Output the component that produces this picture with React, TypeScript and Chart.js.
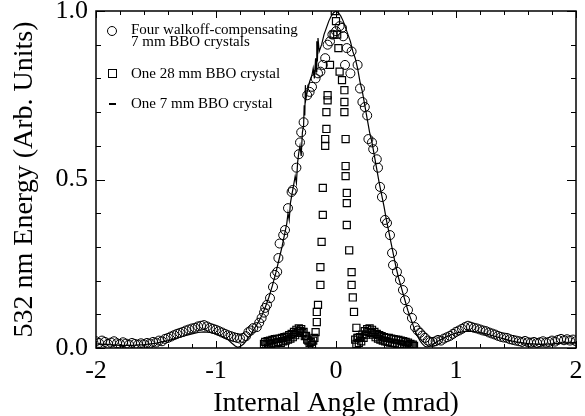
import React, { useEffect, useRef } from "react";
import { Chart, registerables } from "chart.js";

Chart.register(...registerables);

const FONT = "'Liberation Serif', 'Times New Roman', serif";

// Axis tick labels
const xTickValues = [-2, -1, 0, 1, 2];
const yTickValues = [0.0, 0.5, 1.0];

// Series 1: Four walkoff-compensating 7 mm BBO crystals (circles)
const fourX = [
  -2.0, -1.975, -1.95, -1.925, -1.9, -1.875, -1.85, -1.825, -1.8, -1.775, -1.75, -1.725, -1.7, -1.675, -1.65, -1.625,
  -1.6, -1.575, -1.55, -1.525, -1.5, -1.475, -1.45, -1.425, -1.4, -1.375, -1.35, -1.325, -1.3, -1.275, -1.25, -1.225,
  -1.2, -1.175, -1.15, -1.125, -1.1, -1.075, -1.05, -1.025, -1.0, -0.975, -0.95, -0.925, -0.9, -0.875, -0.85, -0.825,
  -0.8, -0.775, -0.75, -0.73, -0.71, -0.69, -0.66, -0.64, -0.62, -0.6, -0.59, -0.575, -0.55, -0.525, -0.51, -0.49,
  -0.48, -0.47, -0.44, -0.425, -0.4, -0.37, -0.36, -0.33, -0.31, -0.3, -0.29, -0.27, -0.24, -0.22, -0.2, -0.17,
  -0.15, -0.13, -0.11, -0.09, -0.07, -0.05, -0.03, 0.0, 0.03, 0.05, 0.06, 0.075, 0.09, 0.12, 0.13, 0.18,
  0.2, 0.22, 0.24, 0.26, 0.27, 0.3, 0.31, 0.34, 0.35, 0.367, 0.383, 0.408, 0.425, 0.45, 0.467, 0.475,
  0.508, 0.533, 0.558, 0.575, 0.6, 0.633, 0.658, 0.68, 0.7, 0.72, 0.742, 0.765, 0.785, 0.808, 0.83, 0.85,
  0.875, 0.9, 0.925, 0.95, 0.975, 1.0, 1.025, 1.05, 1.075, 1.1, 1.125, 1.15, 1.175, 1.2, 1.225, 1.25,
  1.275, 1.3, 1.325, 1.35, 1.375, 1.4, 1.425, 1.45, 1.475, 1.5, 1.525, 1.55, 1.575, 1.6, 1.625, 1.65,
  1.675, 1.7, 1.725, 1.75, 1.775, 1.8, 1.825, 1.85, 1.875, 1.9, 1.925, 1.95, 1.975, 2.0,
];
const fourY = [
  0.02, 0.015, 0.022, 0.018, 0.012, 0.016, 0.02, 0.014, 0.012, 0.017, 0.013, 0.01, 0.015, 0.012, 0.01, 0.014,
  0.011, 0.015, 0.013, 0.018, 0.016, 0.022, 0.02, 0.027, 0.03, 0.034, 0.038, 0.042, 0.045, 0.048, 0.052, 0.055,
  0.058, 0.06, 0.064, 0.066, 0.068, 0.064, 0.06, 0.057, 0.054, 0.05, 0.046, 0.042, 0.038, 0.035, 0.032, 0.03,
  0.028, 0.03, 0.035, 0.047, 0.052, 0.059, 0.062, 0.075, 0.089, 0.105, 0.119, 0.128, 0.148, 0.181, 0.217, 0.226,
  0.267, 0.31, 0.335, 0.35, 0.415, 0.463, 0.469, 0.535, 0.575, 0.61, 0.64, 0.67, 0.75, 0.76, 0.775, 0.8,
  0.815, 0.82, 0.84, 0.86, 0.9, 0.91, 0.93, 0.94, 0.955, 0.95, 0.925, 0.84, 0.89, 0.815, 0.88, 0.84,
  0.77, 0.73, 0.715, 0.69, 0.62, 0.61, 0.59, 0.56, 0.535, 0.478, 0.448, 0.38, 0.371, 0.335, 0.282, 0.246,
  0.226, 0.202, 0.172, 0.142, 0.113, 0.089, 0.062, 0.052, 0.045, 0.037, 0.03, 0.022, 0.018, 0.018, 0.02, 0.024,
  0.022, 0.028, 0.032, 0.036, 0.042, 0.048, 0.052, 0.057, 0.062, 0.066, 0.063, 0.06, 0.058, 0.055, 0.052, 0.05,
  0.046, 0.043, 0.04, 0.036, 0.033, 0.031, 0.03, 0.026, 0.024, 0.022, 0.02, 0.018, 0.021, 0.017, 0.016, 0.018,
  0.015, 0.017, 0.02, 0.016, 0.018, 0.022, 0.019, 0.024, 0.027, 0.023, 0.026, 0.022, 0.025, 0.02,
];

// Series 2: One 28 mm BBO crystal (squares)
const bbo28X = [
  -0.6, -0.59, -0.58, -0.57, -0.56, -0.55, -0.54, -0.53, -0.52, -0.51, -0.5, -0.49, -0.48, -0.47, -0.46, -0.45,
  -0.44, -0.43, -0.42, -0.41, -0.4, -0.39, -0.38, -0.37, -0.36, -0.35, -0.34, -0.33, -0.32, -0.31, -0.3, -0.29,
  -0.28, -0.27, -0.26, -0.25, -0.24, -0.23, -0.22, -0.21, -0.2, -0.19, -0.18,
  -0.17, -0.16, -0.16, -0.15, -0.13, -0.13, -0.12, -0.11, -0.11, -0.09, -0.09, -0.08, -0.08, -0.07, -0.07, -0.05,
  -0.02, -0.01, 0.0, 0.01, 0.02, 0.03, 0.05, 0.07, 0.07, 0.07, 0.08, 0.08, 0.08, 0.09, 0.09, 0.09,
  0.11, 0.13, 0.13, 0.14, 0.15, 0.17, 0.18,
  0.16, 0.17, 0.18, 0.19, 0.2, 0.21, 0.22, 0.23, 0.24, 0.25, 0.26, 0.27, 0.28, 0.29, 0.3, 0.31,
  0.32, 0.33, 0.34, 0.35, 0.36, 0.37, 0.38, 0.39, 0.4, 0.41, 0.42, 0.43, 0.44, 0.45, 0.46, 0.47,
  0.48, 0.49, 0.5, 0.51, 0.52, 0.53, 0.54, 0.55, 0.56, 0.57, 0.58, 0.59, 0.6, 0.61, 0.62, 0.63, 0.64, 0.65,
];
const bbo28Y = [
  0.012, 0.018, 0.01, 0.02, 0.014, 0.022, 0.012, 0.024, 0.016, 0.026, 0.014, 0.027, 0.018, 0.028, 0.015, 0.03,
  0.02, 0.032, 0.022, 0.034, 0.025, 0.038, 0.028, 0.042, 0.032, 0.048, 0.038, 0.054, 0.045, 0.058, 0.05, 0.056,
  0.045, 0.048, 0.035, 0.036, 0.025, 0.022, 0.015, 0.018, 0.01, 0.022, 0.03,
  0.047, 0.077, 0.107, 0.128, 0.187, 0.24, 0.315, 0.395, 0.475, 0.6, 0.62, 0.65, 0.7, 0.735, 0.75, 0.84,
  0.93, 1.0, 0.97, 0.93, 0.89, 0.82, 0.795, 0.765, 0.73, 0.7, 0.62, 0.54, 0.51, 0.46, 0.43, 0.365,
  0.29, 0.225, 0.187, 0.15, 0.107, 0.06, 0.03,
  0.025, 0.012, 0.03, 0.015, 0.032, 0.02, 0.04, 0.03, 0.05, 0.04, 0.056, 0.048, 0.058, 0.045, 0.054, 0.04,
  0.048, 0.032, 0.042, 0.028, 0.038, 0.025, 0.035, 0.022, 0.032, 0.02, 0.03, 0.018, 0.03, 0.016, 0.028, 0.015,
  0.026, 0.014, 0.025, 0.012, 0.024, 0.012, 0.022, 0.01, 0.02, 0.01, 0.018, 0.008, 0.016, 0.008, 0.012, 0.006, 0.01, 0.006,
];

// Series 3: One 7 mm BBO crystal (solid line)
const bbo7X = [
  -2.0, -1.9, -1.8, -1.7, -1.6, -1.5, -1.45, -1.4, -1.35, -1.3, -1.25, -1.2, -1.15, -1.1, -1.05, -1.0,
  -0.95, -0.9, -0.87, -0.84, -0.82, -0.8, -0.77, -0.74, -0.71, -0.68, -0.65, -0.62, -0.59, -0.56, -0.53, -0.5,
  -0.47, -0.45, -0.43, -0.41, -0.4, -0.39, -0.38, -0.36, -0.34, -0.33, -0.32, -0.31, -0.3, -0.29, -0.28, -0.27,
  -0.265, -0.26, -0.255, -0.25, -0.24, -0.22, -0.2, -0.19, -0.18, -0.17, -0.165, -0.16, -0.155, -0.15, -0.14, -0.12,
  -0.1, -0.08, -0.06, -0.04, -0.02, 0.0, 0.02, 0.04, 0.06, 0.08, 0.1, 0.12, 0.14, 0.16, 0.18, 0.2,
  0.22, 0.24, 0.26, 0.28, 0.3, 0.32, 0.34, 0.36, 0.38, 0.4, 0.42, 0.44, 0.46, 0.48, 0.5, 0.52,
  0.54, 0.56, 0.58, 0.6, 0.62, 0.64, 0.66, 0.68, 0.7, 0.72, 0.74, 0.76, 0.78, 0.82, 0.86, 0.9,
  0.95, 1.0, 1.05, 1.1, 1.15, 1.2, 1.25, 1.3, 1.35, 1.4, 1.45, 1.5, 1.6, 1.7, 1.8, 1.9, 2.0,
];
const bbo7Y = [
  0.012, 0.01, 0.008, 0.008, 0.01, 0.014, 0.018, 0.022, 0.027, 0.032, 0.037, 0.042, 0.046, 0.048, 0.046, 0.042,
  0.035, 0.025, 0.015, 0.006, 0.002, 0.004, 0.012, 0.025, 0.04, 0.058, 0.075, 0.095, 0.12, 0.15, 0.185, 0.225,
  0.27, 0.3, 0.335, 0.37, 0.4, 0.38, 0.43, 0.47, 0.51, 0.49, 0.55, 0.58, 0.6, 0.57, 0.64, 0.66,
  0.72, 0.69, 0.78, 0.74, 0.76, 0.79, 0.81, 0.83, 0.8, 0.86, 0.82, 0.91, 0.85, 0.92, 0.88, 0.9,
  0.93, 0.95, 0.97, 0.985, 0.995, 1.0, 0.995, 0.985, 0.97, 0.95, 0.93, 0.91, 0.88, 0.86, 0.83, 0.79,
  0.76, 0.72, 0.68, 0.64, 0.61, 0.57, 0.53, 0.49, 0.455, 0.42, 0.38, 0.345, 0.31, 0.275, 0.24, 0.21,
  0.185, 0.16, 0.135, 0.11, 0.09, 0.07, 0.05, 0.035, 0.022, 0.012, 0.005, 0.003, 0.006, 0.014, 0.022, 0.03,
  0.038, 0.044, 0.048, 0.05, 0.049, 0.046, 0.042, 0.037, 0.032, 0.027, 0.022, 0.018, 0.013, 0.011, 0.012, 0.015, 0.016,
];

const seriesLabels = ["Four walkoff-compensating", "7 mm BBO crystals", "One 28 mm BBO crystal", "One 7 mm BBO crystal"];

const toPts = (xs: number[], ys: number[]) => xs.map((x, i) => ({ x, y: ys[i] }));

const framePlugin = {
  id: "frameTicks",
  afterDatasetsDraw(chart: any) {
    const { ctx, chartArea: a, scales } = chart;
    const xs = scales.x;
    const ys = scales.y;
    ctx.save();
    ctx.strokeStyle = "#000";
    ctx.lineWidth = 1.5;
    ctx.strokeRect(a.left, a.top, a.right - a.left, a.bottom - a.top);
    ctx.lineWidth = 1;
    ctx.beginPath();
    for (let i = 0; i <= 20; i++) {
      const v = -2 + i * 0.2;
      const px = Math.round(xs.getPixelForValue(v)) + 0.5;
      const len = i % 5 === 0 ? 7 : 4;
      ctx.moveTo(px, a.bottom);
      ctx.lineTo(px, a.bottom - len);
      ctx.moveTo(px, a.top);
      ctx.lineTo(px, a.top + len);
    }
    for (let i = 0; i <= 10; i++) {
      const v = i * 0.1;
      const py = Math.round(ys.getPixelForValue(v)) + 0.5;
      const len = i % 5 === 0 ? 9 : 5;
      ctx.moveTo(a.left, py);
      ctx.lineTo(a.left + len, py);
      ctx.moveTo(a.right, py);
      ctx.lineTo(a.right - len, py);
    }
    ctx.stroke();
    ctx.restore();
  },
  afterDraw(chart: any) {
    const { ctx } = chart;
    ctx.save();
    ctx.strokeStyle = "#000";
    ctx.fillStyle = "#000";
    ctx.lineWidth = 1;
    // circle marker
    ctx.beginPath();
    ctx.arc(112, 31, 4.5, 0, Math.PI * 2);
    ctx.stroke();
    // square marker
    ctx.strokeRect(108.5, 69.5, 8, 8);
    // dash marker
    ctx.lineWidth = 2;
    ctx.beginPath();
    ctx.moveTo(109, 104);
    ctx.lineTo(116, 104);
    ctx.stroke();
    ctx.font = `15px ${FONT}`;
    ctx.textBaseline = "alphabetic";
    ctx.textAlign = "left";
    ctx.fillText(seriesLabels[0], 131, 34);
    ctx.fillText(seriesLabels[1], 131, 46);
    ctx.fillText(seriesLabels[2], 131, 78);
    ctx.fillText(seriesLabels[3], 131, 108);
    ctx.restore();
  },
};

export default function App() {
  const ref = useRef<HTMLCanvasElement | null>(null);
  useEffect(() => {
    if (!ref.current) return;
    const chart = new Chart(ref.current, {
      type: "scatter",
      data: {
        datasets: [
          {
            type: "line",
            label: "One 7 mm BBO crystal",
            data: toPts(bbo7X, bbo7Y),
            borderColor: "#000",
            borderWidth: 1.2,
            pointRadius: 0,
            showLine: true,
            tension: 0,
            fill: false,
            order: 0,
          } as any,
          {
            label: "Four walkoff-compensating 7 mm BBO crystals",
            data: toPts(fourX, fourY),
            pointStyle: "circle",
            pointRadius: 4.5,
            borderColor: "#000",
            borderWidth: 1,
            backgroundColor: "rgba(0,0,0,0)",
            order: 1,
          },
          {
            label: "One 28 mm BBO crystal",
            data: toPts(bbo28X, bbo28Y),
            pointStyle: "rect",
            pointRadius: 5,
            borderColor: "#000",
            borderWidth: 1.2,
            backgroundColor: "rgba(0,0,0,0)",
            order: 2,
          },
        ],
      },
      options: {
        responsive: false,
        animation: false,
        devicePixelRatio: 1,
        layout: { padding: { top: 11, right: 9, left: 0, bottom: 0 } },
        plugins: { legend: { display: false }, tooltip: { enabled: false } },
        scales: {
          x: {
            type: "linear",
            min: -2,
            max: 2,
            afterBuildTicks: (s: any) => {
              s.ticks = xTickValues.map((v) => ({ value: v }));
            },
            afterFit: (s: any) => {
              s.height = 68;
              s.paddingLeft = 0;
              s.paddingRight = 0;
            },
            grid: { display: false, drawTicks: false },
            border: { display: false },
            ticks: {
              color: "#000",
              font: { family: FONT, size: 26 },
              padding: 8,
              maxRotation: 0,
              autoSkip: false,
              callback: (v: any) => String(v),
            },
            title: {
              display: true,
              text: "Internal Angle (mrad)",
              color: "#000",
              font: { family: FONT, size: 28, lineHeight: 1 },
              padding: { top: 0, bottom: -2 },
            },
          },
          y: {
            type: "linear",
            min: 0,
            max: 1,
            afterBuildTicks: (s: any) => {
              s.ticks = yTickValues.map((v) => ({ value: v }));
            },
            afterFit: (s: any) => {
              s.width = 96;
              s.paddingTop = 0;
              s.paddingBottom = 0;
            },
            grid: { display: false, drawTicks: false },
            border: { display: false },
            ticks: {
              color: "#000",
              font: { family: FONT, size: 26 },
              padding: 8,
              autoSkip: false,
              callback: (v: any) => Number(v).toFixed(1),
            },
            title: {
              display: true,
              text: "532 nm Energy (Arb. Units)",
              color: "#000",
              font: { family: FONT, size: 28, lineHeight: 1 },
              padding: { top: 11, bottom: 0 },
            },
          },
        },
      },
      plugins: [framePlugin],
    });
    return () => chart.destroy();
  }, []);
  return (
    <div style={{ position: "fixed", left: 0, top: 0, width: 585, height: 416, background: "#fff" }}>
      <canvas ref={ref} width={585} height={416} style={{ display: "block" }} />
    </div>
  );
}
